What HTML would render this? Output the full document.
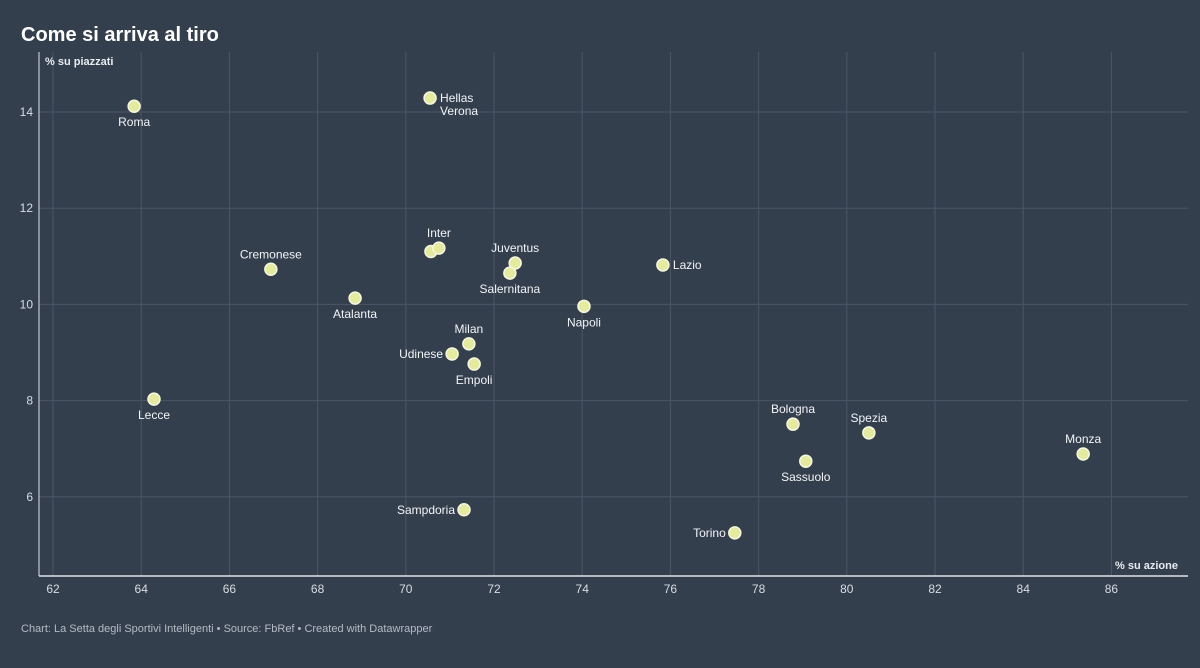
<!DOCTYPE html>
<html><head><meta charset="utf-8"><style>
body{margin:0;background:#343f4e;font-family:"Liberation Sans",sans-serif;}
svg{display:block}
</style></head><body>
<svg width="1200" height="668" id="chart">
<rect width="1200" height="668" fill="#343f4e"/>
<text x="21" y="41" font-size="20" font-weight="bold" fill="#fff">Come si arriva al tiro</text>
<text x="21" y="632" font-size="11" fill="#b4bac3">Chart: La Setta degli Sportivi Intelligenti • Source: FbRef • Created with Datawrapper</text>
<g id="grid"></g><g id="pts"></g>
</svg>
<script>
const teams=["Roma","Hellas Verona","Cremonese","Inter","Inter2","Juventus","Salernitana","Lazio","Atalanta","Napoli","Milan","Udinese","Empoli","Lecce","Bologna","Spezia","Sassuolo","Monza","Sampdoria","Torino"];
const azione=[63.84,70.55,66.94,70.57,70.75,72.48,72.36,75.83,68.85,74.04,71.43,71.05,71.55,64.29,78.78,80.50,79.07,85.36,71.32,77.46];
const piazzati=[14.12,14.29,10.73,11.10,11.17,10.86,10.65,10.82,10.13,9.96,9.18,8.97,8.76,8.03,7.51,7.33,6.74,6.89,5.73,5.25];
const xTicks=[62,64,66,68,70,72,74,76,78,80,82,84,86];
const yTicks=[6,8,10,12,14];
const X=v=>53+(v-62)*44.1, Y=v=>112-(v-14)*48.1;
const NS="http://www.w3.org/2000/svg";
function mk(t,a,p){const e=document.createElementNS(NS,t);for(const k in a)e.setAttribute(k,a[k]);p.appendChild(e);return e;}
const g=document.getElementById('grid'),P=document.getElementById('pts');
xTicks.forEach(v=>{
 const l=mk('line',{x1:X(v),x2:X(v),y1:52,y2:576,stroke:'#4b5665'},g);
 
 
 const t=mk('text',{x:X(v),y:593,'font-size':12,fill:'#d8dce2','text-anchor':'middle'},g);t.textContent=v;
 
 
});
yTicks.forEach(v=>{
 const l=mk('line',{x1:39,x2:1188,y1:Y(v),y2:Y(v),stroke:'#4b5665'},g);
 
 
 const t=mk('text',{x:33,y:Y(v)+4,'font-size':12,fill:'#d8dce2','text-anchor':'end'},g);t.textContent=v;
 
 
});
let ax=mk('line',{x1:39,x2:1188,y1:576,y2:576,stroke:'#e0e3e8','stroke-width':1.5},g);


ax=mk('line',{x1:39,x2:39,y1:52,y2:576,stroke:'#e0e3e8','stroke-width':1},g);


let t=mk('text',{x:45,y:65,'font-size':11,'font-weight':'bold',fill:'#e8ebef'},g);t.textContent='% su piazzati';


t=mk('text',{x:1178,y:569,'font-size':11,'font-weight':'bold',fill:'#e8ebef','text-anchor':'end'},g);t.textContent='% su azione';


// label placement: [dx,dy,anchor]
const lab={"Roma":[0,20,'middle'],"Hellas Verona":[10,4,'start'],"Cremonese":[0,-11,'middle'],"Inter2":[0,-11,'middle'],"Juventus":[0,-11,'middle'],"Salernitana":[0,20,'middle'],"Lazio":[10,4,'start'],"Atalanta":[0,20,'middle'],"Napoli":[0,20,'middle'],"Milan":[0,-11,'middle'],"Udinese":[-9,4,'end'],"Empoli":[0,20,'middle'],"Lecce":[0,20,'middle'],"Bologna":[0,-11,'middle'],"Spezia":[0,-11,'middle'],"Sassuolo":[0,20,'middle'],"Monza":[0,-11,'middle'],"Sampdoria":[-9,4,'end'],"Torino":[-9,4,'end']};
teams.forEach((n,i)=>{
 const c=mk('circle',{cx:X(azione[i]),cy:Y(piazzati[i]),r:6,fill:'#e4eb9b',stroke:'#f5f7e0','stroke-width':1.5},P);
 
 
 const L=lab[n]; if(!L) return;
 const tx=mk('text',{x:X(azione[i])+L[0],y:Y(piazzati[i])+L[1],'font-size':12,fill:'#f2f4f6','text-anchor':L[2]},P);
 if(n==="Hellas Verona"){tx.textContent='Hellas';const s=mk('tspan',{x:X(azione[i])+L[0],dy:13},tx);s.textContent='Verona';}
 else tx.textContent=n==="Inter2"?"Inter":n;
 
 
});
</script>
</body></html>
